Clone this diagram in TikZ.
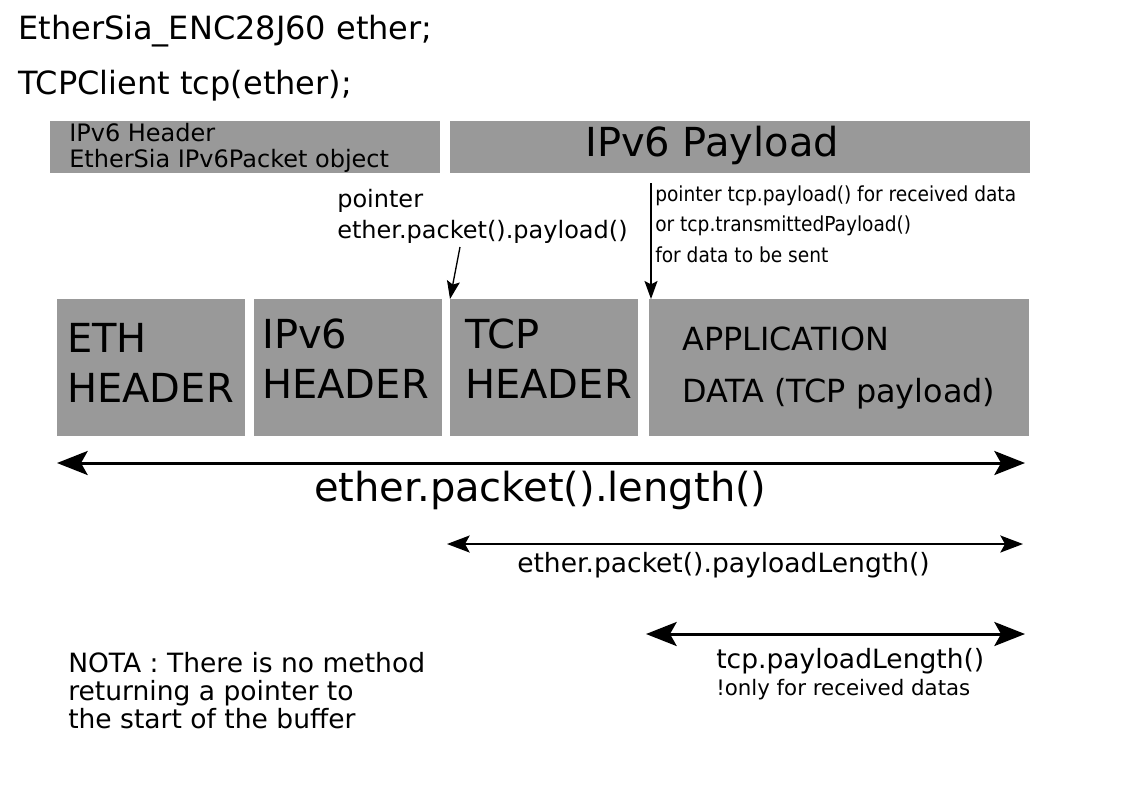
\documentclass[tikz,border=0pt]{standalone}
\usepackage{fontspec}
\setmainfont{DejaVu Sans}
\newfontfamily\condfont{DejaVu Sans Condensed}
\usetikzlibrary{arrows.meta}
\definecolor{cellgray}{HTML}{999999}
\tikzset{
  cell/.style={fill=cellgray,anchor=north west,inner sep=0pt},
  txt/.style={anchor=base west,inner sep=0pt,align=left},
  bigarrow/.style={line width=2.25pt,{Stealth[length=23pt,width=18pt,inset=5pt]}-{Stealth[length=23pt,width=18pt,inset=5pt]}},
  midarrow/.style={line width=1.5pt,{Stealth[length=17pt,width=12.75pt,inset=3.5pt]}-{Stealth[length=17pt,width=12.75pt,inset=3.5pt]}},
  ptrarrow/.style={line width=1pt,-{Stealth[length=13.5pt,width=9.75pt,inset=2.5pt]}}
}
\begin{document}
\begin{tikzpicture}[x=0.75pt,y=-0.75pt]
\useasboundingbox (0,0) rectangle (1123,794);
% declarations
\node[txt,font=\fontsize{24}{28}\selectfont] (decl1) at (18,39) {EtherSia\_ENC28J60 ether;};
\node[txt,font=\fontsize{24}{28}\selectfont] (decl2) at (18,94) {TCPClient tcp(ether);};
% top row
\node[cell,minimum width=292.5pt,minimum height=39pt] (hdrobj) at (50,121) {};
\node[cell,minimum width=435pt,minimum height=39pt] (payload) at (450,121) {};
\node[txt,font=\fontsize{18}{20}\selectfont] (hdrobj1) at (69,141) {IPv6 Header};
\node[txt,font=\fontsize{18}{20}\selectfont] (hdrobj2) at (69,167) {EtherSia IPv6Packet object};
\node[txt,font=\fontsize{30}{34}\selectfont] (payloadtxt) at (585,156) {IPv6 Payload};
% pointers
\node[txt,font=\fontsize{18}{20}\selectfont] (ptrA1) at (337,207) {pointer};
\node[txt,font=\fontsize{18}{20}\selectfont] (ptrA2) at (337,238) {ether.packet().payload()};
\node[txt,font=\condfont\fontsize{15.5}{18}\selectfont] (ptrB1) at (655,201) {pointer tcp.payload() for received data};
\node[txt,font=\condfont\fontsize{15.5}{18}\selectfont] (ptrB2) at (655,231) {or tcp.transmittedPayload()};
\node[txt,font=\condfont\fontsize{15.5}{18}\selectfont] (ptrB3) at (655,262) {for data to be sent};
% packet cells
\node[cell,minimum width=141pt,minimum height=102.75pt] (eth) at (57,299) {};
\node[cell,minimum width=141pt,minimum height=102.75pt] (ipv6) at (254,299) {};
\node[cell,minimum width=141pt,minimum height=102.75pt] (tcp) at (450,299) {};
\node[cell,minimum width=285pt,minimum height=102.75pt] (app) at (649,299) {};
\node[txt,font=\fontsize{30}{34}\selectfont] (eth1) at (67,352) {ETH};
\node[txt,font=\fontsize{30}{34}\selectfont] (eth2) at (67,402) {HEADER};
\node[txt,font=\fontsize{30}{34}\selectfont] (ipv61) at (262,348) {IPv6};
\node[txt,font=\fontsize{30}{34}\selectfont] (ipv62) at (262,398) {HEADER};
\node[txt,font=\fontsize{30}{34}\selectfont] (tcp1) at (465,348) {TCP};
\node[txt,font=\fontsize{30}{34}\selectfont] (tcp2) at (465,398) {HEADER};
\node[txt,font=\fontsize{23.9}{26}\selectfont] (app1) at (682,350) {APPLICATION};
\node[txt,font=\fontsize{23.9}{26}\selectfont] (app2) at (682,402) {DATA (TCP payload)};
\coordinate (ptrAstart) at (460,247);
\coordinate (ptrBstart) at (651,183);
\draw[ptrarrow] (ptrAstart) -- (tcp.north west);
\draw[ptrarrow] (ptrBstart) -- ([xshift=1.5pt]app.north west);
% lengths
\coordinate (lenL) at (57,463);
\coordinate (lenR) at (1025,463);
\coordinate (plenL) at (447,544);
\coordinate (plenR) at (1023,544);
\coordinate (tlenL) at (646,634);
\coordinate (tlenR) at (1025,634);
\draw[bigarrow] (lenL) -- (lenR);
\draw[midarrow] (plenL) -- (plenR);
\draw[bigarrow] (tlenL) -- (tlenR);
\node[txt,font=\fontsize{30}{34}\selectfont] (lentxt) at (314,501) {ether.packet().length()};
\node[txt,font=\fontsize{19.9}{22}\selectfont] (plentxt) at (517,572) {ether.packet().payloadLength()};
\node[txt,font=\fontsize{19.9}{22}\selectfont] (tlentxt) at (716,668) {tcp.payloadLength()};
\node[txt,font=\fontsize{16}{18}\selectfont] (tlennote) at (716,695) {!only for received datas};
% note
\node[txt,font=\fontsize{19.9}{21.2}\selectfont,anchor=north west] (nota) at (68,652) {NOTA : There is no method\\returning a pointer to\\the start of the buffer};
\end{tikzpicture}
\end{document}
